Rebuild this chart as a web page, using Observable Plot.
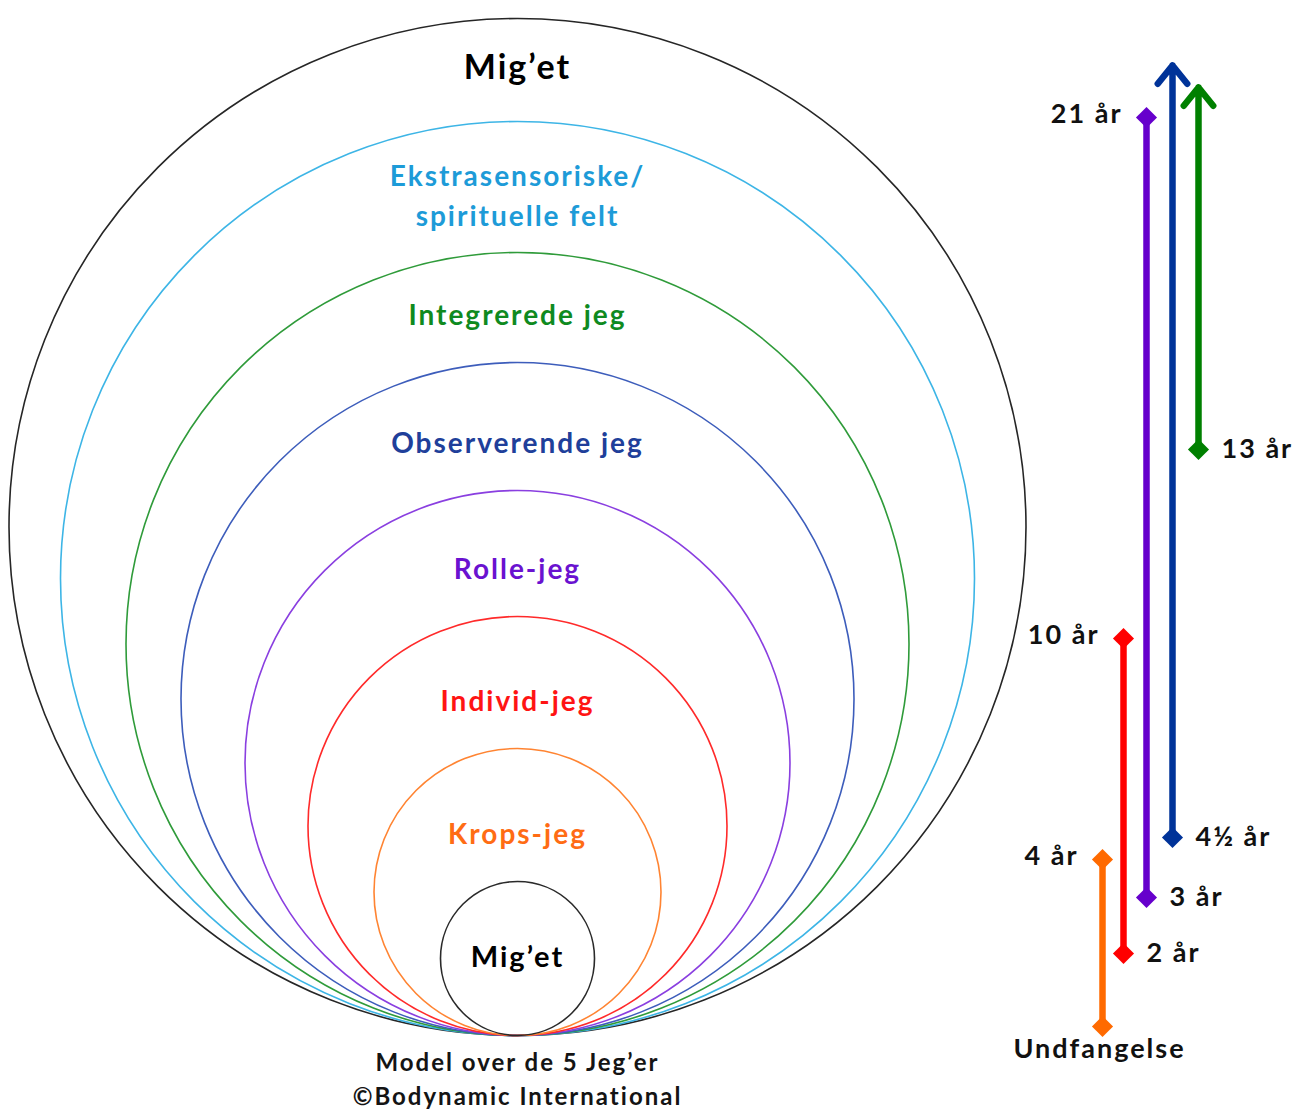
<!DOCTYPE html>
<html>
<head>
<meta charset="utf-8">
<script src="https://cdn.jsdelivr.net/npm/d3@7"></script>
<script src="https://cdn.jsdelivr.net/npm/@observablehq/plot@0.6"></script>
<style>
  html, body { margin: 0; padding: 0; background: #fff; overflow: hidden; }
  #chart svg { display: block; }
  #chart svg text { letter-spacing: 2px; }
</style>
</head>
<body>
<div id="chart"></div>
<script>
// ---- Data (diagram units: height above the common tangent point) ----
const ringKeys = ["mig-ydre", "ekstra", "integreret", "observerende", "rolle", "individ", "krop", "mig-indre"];
const ringNames = ["Mig’et", "Ekstrasensoriske/\nspirituelle felt", "Integrerede jeg", "Observerende jeg",
                   "Rolle-jeg", "Individ-jeg", "Krops-jeg", "Mig’et"];
const ringDiameters = [1017, 914, 783, 673, 545, 419, 287, 154];

const ageLabels  = ["Undfangelse", "2 år", "3 år", "4 år", "4½ år", "10 år", "13 år", "21 år"];
const ageHeights = [9, 82, 138, 176, 198, 397, 586, 918];

const spanRing    = ["krop", "individ", "rolle", "observerende", "integreret"];
const spanColumn  = [585, 606, 629, 655, 681];
const spanFrom    = ["Undfangelse", "2 år", "3 år", "4½ år", "13 år"];
const spanTo      = ["4 år", "10 år", "21 år", null, null];
const spanOpenEnd = [null, null, null, 970, 948];

const captionLines = ["Model over de 5 Jeg’er", "©Bodynamic International"];

// ---- Styles ----
const ringStroke = {
  "mig-ydre": "#262626", "ekstra": "#3db5e6", "integreret": "#2f9b3a", "observerende": "#3d5dbb",
  "rolle": "#8a3fe0", "individ": "#ff2a2a", "krop": "#ff8432", "mig-indre": "#2a2a2a"
};
const ringTextColor = {
  "mig-ydre": "#000000", "ekstra": "#1d9bd8", "integreret": "#0f8a1f", "observerende": "#203f9a",
  "rolle": "#6a12d0", "individ": "#ff1414", "krop": "#ff6c14", "mig-indre": "#000000"
};
const spanColor = {
  "krop": "#ff6a00", "individ": "#ff0000", "rolle": "#6600cc", "observerende": "#003399", "integreret": "#008000"
};

// ---- Derived tables ----
const ageHeight = new Map(ageLabels.map((a, i) => [a, ageHeights[i]]));
const rings = ringKeys.map((key, i) => ({
  key, name: ringNames[i], d: ringDiameters[i],
  nextTop: i + 1 < ringKeys.length ? ringDiameters[i + 1] : null
}));
const spans = spanRing.map((key, i) => ({
  key, x: spanColumn[i],
  from: spanFrom[i], to: spanTo[i],
  y1: ageHeight.get(spanFrom[i]),
  y2: spanTo[i] ? ageHeight.get(spanTo[i]) : spanOpenEnd[i]
}));
const closedSpans = spans.filter(s => s.to);
const openSpans = spans.filter(s => !s.to);
const diamonds = [
  ...spans.map(s => ({key: s.key, x: s.x, y: s.y1, label: s.from, side: s.from === "Undfangelse" ? "below" : "right"})),
  ...closedSpans.map(s => ({key: s.key, x: s.x, y: s.y2, label: s.to, side: "left"}))
];

const font = "Lato, 'Open Sans', sans-serif";
const middleKeys = ["integreret", "observerende", "rolle", "individ", "krop"];

const plot = Plot.plot({
  width: 1299,
  height: 1111,
  margin: 0,
  style: {fontFamily: font, background: "#fff"},
  x: {domain: [-517, 782], axis: null},
  y: {domain: [-76, 1035], axis: null},
  r: {type: "identity"},
  color: {type: "identity"},
  marks: [
    // nested rings, all tangent at the bottom point
    Plot.dot(rings, {
      x: 0, y: d => d.d / 2, r: d => d.d / 2,
      stroke: d => ringStroke[d.key], strokeWidth: 1.6, fill: "none"
    }),
    // outer ring label
    Plot.text(rings.filter(d => d.key === "mig-ydre"), {
      x: 0, y: "nextTop", text: "name", dy: -53,
      fill: d => ringTextColor[d.key], fontSize: 34, fontWeight: "bold"
    }),
    // two-line label
    Plot.text(rings.filter(d => d.key === "ekstra"), {
      x: 0, y: "nextTop", text: "name", dy: -59, lineHeight: 1.43,
      fill: d => ringTextColor[d.key], fontSize: 28, fontWeight: "bold"
    }),
    // middle ring labels
    Plot.text(rings.filter(d => middleKeys.includes(d.key)), {
      x: 0, y: "nextTop", text: "name", dy: -46,
      fill: d => ringTextColor[d.key], fontSize: 28, fontWeight: "bold"
    }),
    // inner ring label
    Plot.text(rings.filter(d => d.key === "mig-indre"), {
      x: 0, y: d => d.d / 2, text: "name", dy: -1,
      fill: d => ringTextColor[d.key], fontSize: 29, fontWeight: "bold"
    }),
    // age spans
    Plot.link(closedSpans, {
      x1: "x", y1: "y1", x2: "x", y2: "y2",
      stroke: d => spanColor[d.key], strokeWidth: 6.5
    }),
    Plot.arrow(openSpans, {
      x1: "x", y1: "y1", x2: "x", y2: "y2",
      stroke: d => spanColor[d.key], strokeWidth: 6.5,
      headAngle: 78, headLength: 5.4, strokeLinecap: "round", strokeLinejoin: "round"
    }),
    Plot.dot(diamonds, {
      x: "x", y: "y", symbol: "diamond2", r: 9.5, fill: d => spanColor[d.key], stroke: "none"
    }),
    // age labels
    Plot.text(diamonds.filter(d => d.side === "right"), {
      x: "x", y: "y", text: "label", dx: 23, textAnchor: "start",
      fill: "#111", fontSize: 27, fontWeight: "bold"
    }),
    Plot.text(diamonds.filter(d => d.side === "left"), {
      x: "x", y: "y", text: "label", dx: -24, dy: -3, textAnchor: "end",
      fill: "#111", fontSize: 27, fontWeight: "bold"
    }),
    Plot.text(diamonds.filter(d => d.side === "below"), {
      x: "x", y: "y", text: "label", dx: -3, dy: 23,
      fill: "#111", fontSize: 27, fontWeight: "bold"
    }),
    // caption (two lines under the tangent point)
    Plot.text([captionLines[0]], {
      x: 0, frameAnchor: "bottom", dy: -41,
      text: d => d, fill: "#141414", fontSize: 24, fontWeight: "bold"
    }),
    Plot.text([captionLines[1]], {
      x: 0, frameAnchor: "bottom", dy: -7,
      text: d => d, fill: "#141414", fontSize: 24, fontWeight: "bold"
    })
  ]
});

document.getElementById("chart").appendChild(plot);
</script>
</body>
</html>
